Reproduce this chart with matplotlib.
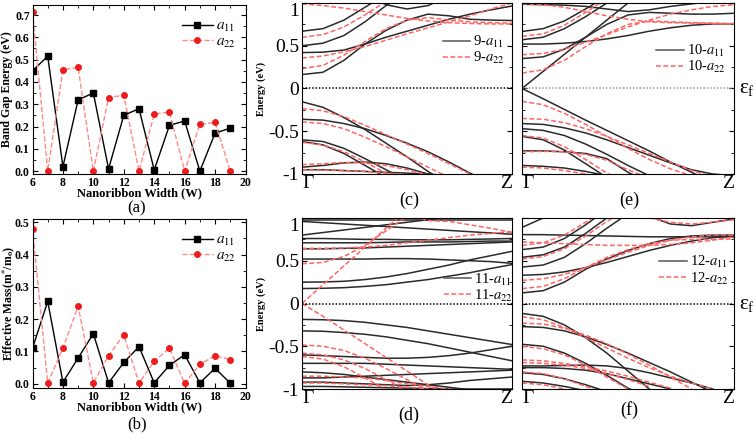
import numpy as np
import matplotlib
matplotlib.use('Agg')
import matplotlib.pyplot as plt
from matplotlib.ticker import MultipleLocator

plt.rcParams['font.family'] = 'Liberation Serif'
plt.rcParams['mathtext.fontset'] = 'stix'

# ---- panel (a) / (b) data ----
width = [6, 7, 8, 9, 10, 11, 12, 13, 14, 15, 16, 17, 18, 19]
gap_a11 = [0.45, 0.515, 0.02, 0.32, 0.35, 0.01, 0.25, 0.28, 0.005, 0.205, 0.225, 0.0, 0.17, 0.193]
gap_a22 = [0.715, 0.0, 0.455, 0.465, 0.0, 0.33, 0.34, 0.0, 0.255, 0.265, 0.0, 0.21, 0.218, 0.0]
mass_a11 = [0.11, 0.255, 0.005, 0.08, 0.155, 0.003, 0.066, 0.115, 0.003, 0.057, 0.09, 0.003, 0.048, 0.002]
mass_a22 = [0.48, 0.003, 0.11, 0.24, 0.003, 0.087, 0.152, 0.002, 0.07, 0.11, 0.001, 0.06, 0.087, 0.075]

# ---- band structures, energies (eV) along Gamma -> Z ----
k_path = [0.0, 0.1, 0.2, 0.3, 0.4, 0.5, 0.6, 0.7, 0.8, 0.9, 1.0]

w9_a11 = [
    [0.163, 0.19, 0.33, 0.52, 0.68, 0.80, 0.87, 0.85, 0.81, 0.80, 0.795],
    [0.42, 0.425, 0.45, 0.52, 0.60, 0.67, 0.74, 0.81, 0.87, 0.92, 0.965],
    [0.50, 0.53, 0.62, 0.78, 0.97, 1.12],
    [0.67, 0.70, 0.80, 0.95, 1.10],
    [None, None, None, 1.10, 0.98, 0.93, 0.97, 1.08],
    [-0.155, -0.22, -0.34, -0.48, -0.64, -0.80, -0.97, -1.12],
    [-0.36, -0.37, -0.41, -0.47, -0.55, -0.64, -0.74, -0.86, -0.99, -1.1],
    [-0.60, -0.62, -0.70, -0.82, -0.95, -1.08],
    [-0.62, -0.66, -0.76, -0.90, -1.04],
    [-0.92, -0.90, -0.87, -0.86, -0.88, -0.93, -1.0, -1.06],
    [-0.95, -0.95, -0.96, -0.97, -0.98, -0.99, -1.0, -1.02],
]
w9_a22 = [
    [0.233, 0.27, 0.39, 0.55, 0.70, 0.80, 0.83, 0.80, 0.78, 0.77, 0.765],
    [0.357, 0.38, 0.43, 0.49, 0.565, 0.64, 0.71, 0.78, 0.85, 0.93, 1.0],
    [0.60, 0.63, 0.72, 0.86, 1.02],
    [0.99, 0.97, 0.94, 0.90, 0.86, 0.82, 0.79, 0.77, 0.76, 0.755, 0.755],
    [-0.236, -0.26, -0.33, -0.43, -0.54, -0.65, -0.76, -0.88, -1.0],
    [-0.39, -0.41, -0.47, -0.57, -0.68, -0.80, -0.92, -1.04],
    [-0.63, -0.66, -0.74, -0.86, -0.99, -1.1],
    [-0.89, -0.88, -0.865, -0.87, -0.90, -0.95, -1.01],
    [-0.95, -0.955, -0.96, -0.97, -0.99, -1.01],
]

w10_a11 = [
    [0.0, 0.2, 0.4, 0.6, 0.8, 1.0, 1.2],
    [0.0, -0.12, -0.245, -0.37, -0.49, -0.61, -0.73, -0.86, -0.98, -1.1],
    [0.35, 0.37, 0.46, 0.60, 0.75, 0.86, 0.89, 0.88, 0.87, 0.87, 0.88],
    [0.52, 0.52, 0.53, 0.55, 0.58, 0.62, 0.67, 0.71, 0.74, 0.755, 0.756],
    [0.57, 0.60, 0.70, 0.84, 1.0, 1.15],
    [0.667, 0.70, 0.79, 0.93, 1.08],
    [0.985, 0.98, 0.975, 0.96, 0.93, 0.90, 0.92, 0.96, 0.99, 1.02],
    [-0.41, -0.42, -0.46, -0.52, -0.60, -0.69, -0.78, -0.87, -0.95, -1.0, -1.02],
    [-0.47, -0.49, -0.55, -0.65, -0.77, -0.90, -1.02],
    [-0.56, -0.60, -0.72, -0.88, -1.04],
    [-0.73, -0.73, -0.74, -0.76, -0.82, -0.98, -1.1],
    [-0.90, -0.91, -0.93, -0.97, -1.02],
]
w10_a22 = [
    [0.18, 0.22, 0.33, 0.49, 0.64, 0.75, 0.79, 0.78, 0.77, 0.765, 0.76],
    [0.395, 0.41, 0.46, 0.54, 0.63, 0.72, 0.80, 0.87, 0.92, 0.96, 0.98],
    [0.61, 0.64, 0.74, 0.89, 1.05],
    [0.99, 0.98, 0.95, 0.90, 0.85, 0.81, 0.78, 0.77, 0.765, 0.76, 0.755],
    [-0.15, -0.19, -0.29, -0.42, -0.56, -0.70, -0.83, -0.94, -1.02],
    [-0.35, -0.36, -0.40, -0.47, -0.56, -0.66, -0.76, -0.86, -0.96, -1.03],
    [-0.55, -0.58, -0.68, -0.83, -0.99, -1.1],
    [-0.74, -0.735, -0.74, -0.77, -0.84, -0.95, -1.05],
    [-0.92, -0.93, -0.96, -1.0, -1.05],
]

w11_a11 = [
    [0.175, 0.178, 0.185, 0.20, 0.22, 0.25, 0.28, 0.32, 0.36, 0.41, 0.455],
    [0.25, 0.252, 0.26, 0.28, 0.31, 0.35, 0.40, 0.45, 0.51, 0.56, 0.61],
    [0.52, 0.52, 0.52, 0.52, 0.525, 0.525, 0.52, 0.51, 0.50, 0.49, 0.47],
    [0.64, 0.64, 0.645, 0.65, 0.66, 0.67, 0.68, 0.69, 0.70, 0.71, 0.72],
    [0.71, 0.71, 0.71, 0.71, 0.715, 0.72, 0.72, 0.72, 0.725, 0.73, 0.73],
    [0.76, 0.76, 0.755, 0.75, 0.75, 0.745, 0.745, 0.745, 0.75, 0.755, 0.76],
    [0.80, 0.83, 0.86, 0.89, 0.92, 0.95, 0.98, 1.01],
    [0.96, 0.945, 0.93, 0.915, 0.90, 0.885, 0.87, 0.855, 0.84, 0.825, 0.81],
    [0.98, 0.98, 0.98, 0.98, 0.98, 0.98, 0.98, 0.98, 0.98, 0.98, 0.98],
    [-0.186, -0.19, -0.20, -0.22, -0.25, -0.28, -0.32, -0.36, -0.40, -0.44, -0.48],
    [-0.32, -0.325, -0.34, -0.36, -0.39, -0.43, -0.47, -0.52, -0.57, -0.62, -0.67],
    [-0.60, -0.61, -0.62, -0.63, -0.64, -0.64, -0.63, -0.61, -0.58, -0.54, -0.50],
    [-0.70, -0.70, -0.70, -0.70, -0.71, -0.72, -0.73, -0.74, -0.75, -0.76, -0.77],
    [-0.80, -0.81, -0.83, -0.86, -0.89, -0.92, -0.95, -0.98, -1.01],
    [-0.87, -0.87, -0.86, -0.85, -0.84, -0.83, -0.82, -0.81, -0.80, -0.79, -0.78],
    [-0.92, -0.92, -0.93, -0.94, -0.95, -0.96, -0.95, -0.93, -0.90, -0.88, -0.86],
    [-0.97, -0.97, -0.975, -0.98, -0.985, -0.99, -0.995, -1.0, -1.0, -1.0, -1.0],
]
w11_a22 = [
    [0.0, 0.22, 0.44, 0.66, 0.88, 1.1],
    [0.0, -0.15, -0.31, -0.47, -0.63, -0.79, -0.95, -1.1],
    [0.465, 0.48, 0.55, 0.68, 0.85, 1.02],
    [None, None, None, None, None, 1.05, 0.97, 0.96, 0.92, 0.88, 0.83],
    [0.645, 0.645, 0.65, 0.66, 0.68, 0.71, 0.74, 0.77, 0.80, 0.82, 0.84],
    [-0.485, -0.50, -0.55, -0.64, -0.76, -0.89, -1.02],
    [-0.58, -0.60, -0.66, -0.76, -0.89, -1.02],
    [-0.62, -0.65, -0.74, -0.87, -1.01],
    [-0.85, -0.85, -0.86, -0.87, -0.90, -0.94, -0.97, -1.0, -1.03],
    [-0.93, -0.93, -0.94, -0.95, -0.96, -0.98, -1.0],
]

w12_a11 = [
    [0.124, 0.15, 0.25, 0.40, 0.52, 0.62, 0.70, 0.76, 0.79, 0.80, 0.80],
    [0.33, 0.34, 0.37, 0.42, 0.48, 0.55, 0.62, 0.68, 0.73, 0.77, 0.79],
    [0.426, 0.45, 0.54, 0.70, 0.88, 1.05],
    [0.54, 0.57, 0.66, 0.82, 1.0, 1.15],
    [0.63, 0.66, 0.76, 0.92, 1.1],
    [0.806, 0.805, 0.80, 0.795, 0.79, 0.785, 0.78, 0.78, 0.78, 0.78, 0.78],
    [0.89, 1.0, 1.1],
    [None, None, None, None, None, None, 1.02, 0.93, 0.91, 0.95, 0.99],
    [-0.116, -0.15, -0.25, -0.40, -0.58, -0.79, -1.0, -1.2],
    [-0.27, -0.28, -0.32, -0.39, -0.48, -0.58, -0.69, -0.80, -0.92, -1.04],
    [-0.477, -0.50, -0.58, -0.70, -0.84, -0.99, -1.1],
    [-0.73, -0.73, -0.725, -0.72, -0.73, -0.76, -0.81, -0.87, -0.93, -1.0],
    [-0.75, -0.75, -0.76, -0.78, -0.82, -0.88, -0.94, -1.0],
    [-0.81, -0.83, -0.88, -0.95, -1.03],
    [-0.91, -0.93, -0.97, -1.02],
]
w12_a22 = [
    [0.174, 0.20, 0.29, 0.42, 0.54, 0.63, 0.70, 0.74, 0.75, 0.75, 0.755],
    [0.27, 0.29, 0.34, 0.42, 0.51, 0.60, 0.68, 0.74, 0.78, 0.80, 0.80],
    [0.52, 0.55, 0.64, 0.79, 0.96, 1.1],
    [0.68, 0.71, 0.80, 0.95, 1.1],
    [0.72, 0.71, 0.70, 0.69, 0.68, 0.68, 0.68, 0.69, 0.71, 0.74, 0.78],
    [None, None, None, None, None, None, 1.0, 0.95, 0.93, 0.95, 0.98],
    [-0.155, -0.19, -0.28, -0.40, -0.52, -0.64, -0.75, -0.85, -0.93, -1.0],
    [-0.23, -0.24, -0.29, -0.37, -0.47, -0.59, -0.72, -0.86, -1.0],
    [-0.50, -0.53, -0.60, -0.72, -0.86, -1.0],
    [-0.66, -0.67, -0.70, -0.74, -0.79, -0.85, -0.92, -0.99],
    [-0.69, -0.70, -0.72, -0.76, -0.82, -0.89, -0.97],
    [-0.80, -0.82, -0.88, -0.97, -1.05],
    [-0.93, -0.95, -1.0],
]

W, H = 755, 434
fig = plt.figure(figsize=(W / 100, H / 100), dpi=100)


def px_axes(x0, y0, x1, y1):
    return fig.add_axes([x0 / W, 1 - y1 / H, (x1 - x0) / W, (y1 - y0) / H])


def tag(x, y, s, size=13):
    fig.text(x / W, 1 - y / H, s, ha='center', va='center', fontsize=size)


def trend_panel(ax, y11, y22, ytop, ylabel, label_x):
    ax.plot(width, y11, '-s', color='black', lw=1, ms=4, label=r'$\mathit{a_{11}}$')
    ax.plot(width, y22, '--o', color='#ff8a8a', mfc='#ee1c1c', mec='#ee1c1c',
            lw=1, ms=4, label=r'$\mathit{a_{22}}$')
    ax.set_xlim(6, 20)
    ax.set_ylim(-0.013, ytop)
    ax.xaxis.set_major_locator(MultipleLocator(2))
    ax.xaxis.set_minor_locator(MultipleLocator(1))
    ax.yaxis.set_major_locator(MultipleLocator(0.1))
    ax.yaxis.set_minor_locator(MultipleLocator(0.05))
    ax.tick_params(which='both', direction='in', top=True, right=True, labelsize=8.5, pad=2)
    ax.tick_params(which='major', length=3.5)
    ax.tick_params(which='minor', length=2)
    for lab in ax.get_xticklabels() + ax.get_yticklabels():
        lab.set_fontweight('bold')
    ax.set_xlabel('Nanoribbon Width (W)', fontsize=9, fontweight='bold', labelpad=-1)
    ax.set_ylabel(ylabel, fontsize=8.5, fontweight='bold')
    ax.yaxis.set_label_coords(label_x, 0.5)
    ax.legend(loc='upper right', bbox_to_anchor=(0.99, 0.96), frameon=False,
              fontsize=11, handlelength=2, handletextpad=0.2, labelspacing=0.05,
              borderpad=0)


def band_panel(ax, b11, b22, n, show_y, zcolor, leg_xy):
    for e in b11:
        e = np.array(e, dtype=float)
        ax.plot(k_path[:len(e)], e, color='#2a2a2a', lw=1.1)
    for e in b22:
        e = np.array(e, dtype=float)
        ax.plot(k_path[:len(e)], e, color='#ff6464', lw=1.1, ls=(0, (3.2, 1.6)))
    ax.axhline(0, color=zcolor, ls=(0, (1, 1.2)), lw=1.1)
    ax.set_xlim(0, 1)
    ax.set_ylim(-1.0, 1.0)
    ax.set_xticks([0, 1])
    ax.set_xticklabels(['Γ', 'Z'], fontsize=14)
    ax.get_xticklabels()[0].set_ha('left')
    ax.get_xticklabels()[1].set_ha('right')
    ax.tick_params(axis='x', length=0, pad=1)
    ax.set_yticks([-1, -0.5, 0, 0.5, 1])
    ax.yaxis.set_minor_locator(MultipleLocator(0.25))
    ax.tick_params(axis='y', which='both', direction='in', right=True, labelsize=14, pad=2)
    ax.tick_params(axis='y', which='major', length=3.5)
    ax.tick_params(axis='y', which='minor', length=2)
    if show_y:
        ax.set_yticklabels(['-1', '-0.5', '0', '0.5', '1'])
        ax.get_yticklabels()[-1].set_va('top')
        ax.set_ylabel('Energy (eV)', fontsize=7.5, fontweight='bold')
        ax.yaxis.set_label_coords(-0.17, 0.5)
    else:
        ax.tick_params(axis='y', labelleft=False)
    ax.plot([], [], color='#555555', lw=1.1, label=n + r'-$a_{11}$')
    ax.plot([], [], color='#ff6464', lw=1.1, ls=(0, (3.2, 1.6)), label=n + r'-$a_{22}$')
    handles, labels = ax.get_legend_handles_labels()
    ax.legend(handles[-2:], labels[-2:], loc='upper right', bbox_to_anchor=leg_xy,
              frameon=False, fontsize=10.5, handlelength=1.9, handletextpad=0.2,
              labelspacing=0.0, borderpad=0)


ax_a = px_axes(32.5, 5, 245.5, 174)
trend_panel(ax_a, gap_a11, gap_a22, 0.745, 'Band Gap Energy (eV)', -0.09)
tag(137, 208, '(a)', 12)

ax_b = px_axes(32.5, 219, 245.5, 388)
trend_panel(ax_b, mass_a11, mass_a22, 0.51,
            r'Effective Mass(m$^{\mathbf{*}}$/m$_{\mathbf{o}}$)', -0.075)
tag(137, 424, '(b)', 12)

ax_c = px_axes(302, 3, 512, 174)
band_panel(ax_c, w9_a11, w9_a22, '9', True, 'black', (1.0, 0.86))
tag(409, 200, '(c)')

ax_e = px_axes(522, 3, 734, 174)
band_panel(ax_e, w10_a11, w10_a22, '10', False, '#9a9a9a', (0.995, 0.81))
tag(629, 200, '(e)')

ax_d = px_axes(302, 218, 512, 389)
band_panel(ax_d, w11_a11, w11_a22, '11', True, 'black', (1.04, 0.73))
tag(409, 415, '(d)')

ax_f = px_axes(522, 218, 734, 389)
band_panel(ax_f, w12_a11, w12_a22, '12', False, 'black', (1.01, 0.83))
tag(629, 410, '(f)')

fig.text(739 / W, 1 - 89 / H, r'$\mathregular{ε_f}$', fontsize=15, ha='left', va='center')
fig.text(739 / W, 1 - 304 / H, r'$\mathregular{ε_f}$', fontsize=15, ha='left', va='center')

fig.savefig('out.png', dpi=100)
